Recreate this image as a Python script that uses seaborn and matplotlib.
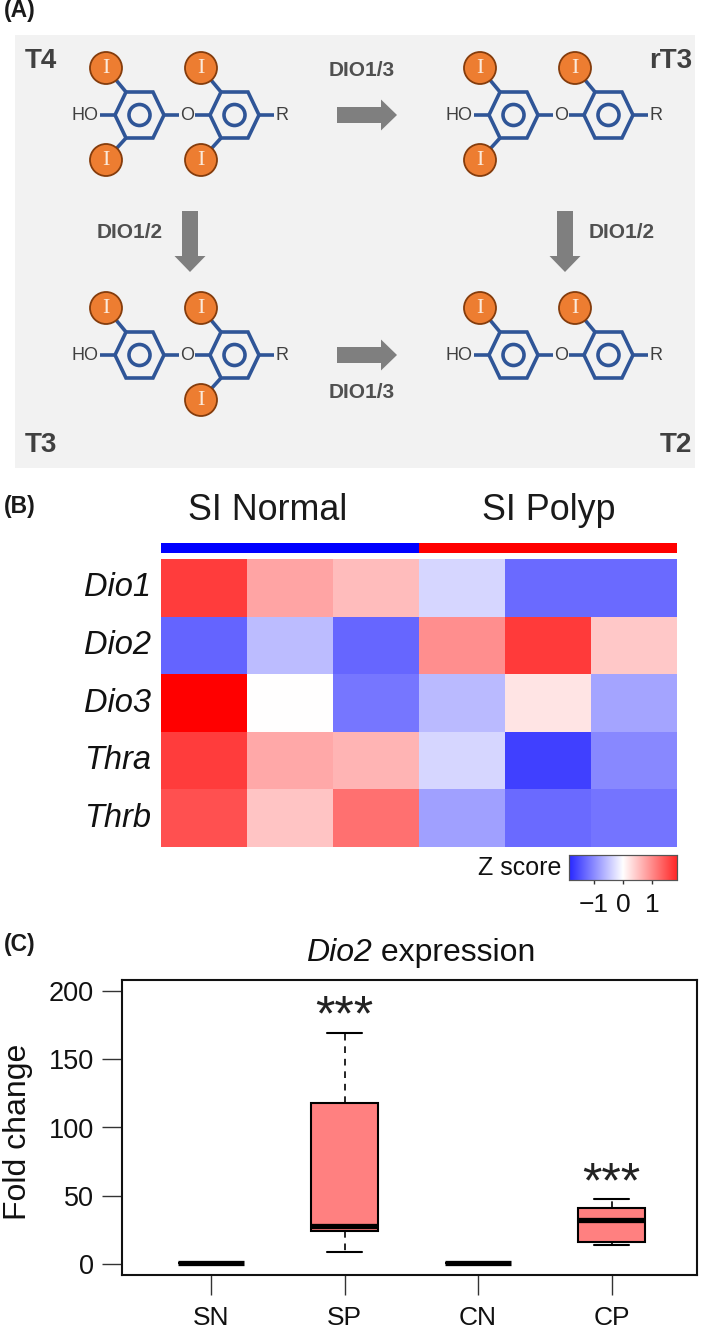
import numpy as np
import pandas as pd
import matplotlib
matplotlib.use("Agg")
import matplotlib.pyplot as plt
from matplotlib.patches import Rectangle, Circle, Polygon
import seaborn as sns

sns.set_theme(style="white")
plt.rcParams["font.family"] = ["Liberation Sans", "DejaVu Sans"]

W, H = 709, 1328

# ── Data ──────────────────────────────────────────────────────
genes = ["Dio1", "Dio2", "Dio3", "Thra", "Thrb"]
samples = ["N1", "N2", "N3", "P1", "P2", "P3"]
dio1 = [1.68, 0.78, 0.58, -0.36, -1.28, -1.28]
dio2 = [-1.34, -0.58, -1.32, 0.97, 1.69, 0.48]
dio3 = [2.20, 0.00, -1.17, -0.60, 0.24, -0.79]
thra = [1.68, 0.75, 0.65, -0.35, -1.65, -1.03]
thrb = [1.51, 0.51, 1.23, -0.81, -1.28, -1.19]
group_strip = [0, 0, 0, 1, 1, 1]
group_names = ["SI Normal", "SI Polyp"]
cbar_ticks = [-1, 0, 1]
cbar_ticklabels = ["\u22121", "0", "1"]

box_groups = ["SN", "SP", "CN", "CP"]
sn_vals = [1, 1, 1, 1, 1]
sp_vals = [9, 24, 28, 118, 169]
cn_vals = [1, 1, 1, 1, 1]
cp_vals = [14, 16, 32, 41, 48]
y_ticks = [0, 50, 100, 150, 200]
star_heights = {"SP": 184, "CP": 62}

BLUE = "#2F5597"
ORANGE = "#ED7D31"
TXT = "#404040"
ARROW = "#7F7F7F"
BG = "#F2F2F2"


def px_axes(x0, y0, x1, y1):
    return fig.add_axes([x0 / W, 1 - y1 / H, (x1 - x0) / W, (y1 - y0) / H])


fig = plt.figure(figsize=(W / 100, H / 100), dpi=100, facecolor="white")

# ── Panel A: pathway schematic, drawn in pixel coordinates ────
sk = fig.add_axes([0, 0, 1, 1])
sk.set_xlim(0, W)
sk.set_ylim(H, 0)
sk.axis("off")
sk.add_patch(Rectangle((15, 35), 680, 433, color=BG, lw=0))


def ring(cx, cy):
    xs = [cx - 24.5, cx - 13.5, cx + 13.5, cx + 24.5, cx + 13.5, cx - 13.5]
    ys = [cy, cy - 23, cy - 23, cy, cy + 23, cy + 23]
    sk.add_patch(Polygon(np.column_stack([xs, ys]), closed=True, fill=False,
                         ec=BLUE, lw=2.6, joinstyle="miter"))
    sk.add_patch(Circle((cx, cy), 10.5, fill=False, ec=BLUE, lw=2.6))


def iodine(x, y, sx, sy):
    # sx, sy: ring vertex that the bond starts from
    sk.plot([sx, x], [sy, y], color=BLUE, lw=2.6, solid_capstyle="butt")
    sk.add_patch(Circle((x, y), 16, fc=ORANGE, ec="#843C0C", lw=1.3, zorder=3))
    sk.text(x, y + 0.5, "I", color="#FBE9DA", fontsize=16, family="Liberation Serif",
            ha="center", va="center", zorder=4)


def molecule(dx, dy, sites):
    cy = 115 + dy
    lc, rc = 139.5 + dx, 234.5 + dx
    ring(lc, cy)
    ring(rc, cy)
    for x0, x1 in [(100, 115), (164, 179), (195, 210), (259, 274)]:
        sk.plot([x0 + dx, x1 + dx], [cy, cy], color=BLUE, lw=2.6, solid_capstyle="butt")
    sk.text(85 + dx, cy + 0.5, "HO", color=TXT, fontsize=13, ha="center", va="center")
    sk.text(187 + dx, cy + 0.5, "O", color=TXT, fontsize=13, ha="center", va="center")
    sk.text(282 + dx, cy + 0.5, "R", color=TXT, fontsize=13, ha="center", va="center")
    if "a" in sites:
        iodine(106 + dx, cy - 47, lc - 13.5, cy - 23)
    if "b" in sites:
        iodine(106 + dx, cy + 45, lc - 13.5, cy + 23)
    if "c" in sites:
        iodine(201 + dx, cy - 47, rc - 13.5, cy - 23)
    if "d" in sites:
        iodine(201 + dx, cy + 45, rc - 13.5, cy + 23)


molecule(0, 0, "abcd")
molecule(374, 0, "abc")
molecule(0, 240, "acd")
molecule(374, 240, "ac")


def arrow_right(x0, x1, y):
    pts = [(x0, y - 8), (x1 - 16, y - 8), (x1 - 16, y - 15.5), (x1, y),
           (x1 - 16, y + 15.5), (x1 - 16, y + 8), (x0, y + 8)]
    sk.add_patch(Polygon(pts, closed=True, fc=ARROW, ec="none"))


def arrow_down(x, y0, y1):
    pts = [(x - 8, y0), (x - 8, y1 - 16), (x - 15.5, y1 - 16), (x, y1),
           (x + 15.5, y1 - 16), (x + 8, y1 - 16), (x + 8, y0)]
    sk.add_patch(Polygon(pts, closed=True, fc=ARROW, ec="none"))


arrow_right(337, 397, 115)
arrow_right(337, 397, 355)
arrow_down(190, 211, 272)
arrow_down(565, 211, 272)

for x, y, s in [(362, 70, "DIO1/3"), (362, 393, "DIO1/3"), (130, 233, "DIO1/2"), (622, 233, "DIO1/2")]:
    sk.text(x, y, s, color="#505050", fontsize=15, fontweight="bold", ha="center", va="center")
for x, y, s, ha in [(25, 61, "T4", "left"), (692, 61, "rT3", "right"),
                    (25, 445, "T3", "left"), (692, 445, "T2", "right")]:
    sk.text(x, y, s, color=TXT, fontsize=20, fontweight="bold", ha=ha, va="center")

for y, s in [(11, "(A)"), (507, "(B)"), (945, "(C)")]:
    sk.text(4, y, s, color="#1a1a1a", fontsize=16.5, fontweight="bold", ha="left", va="center")

# ── Panel B: heatmap ──────────────────────────────────────────
zscores = pd.DataFrame([dio1, dio2, dio3, thra, thrb], index=genes, columns=samples)

ax_strip = px_axes(161, 543, 677, 553)
sns.heatmap(np.array([group_strip]), ax=ax_strip, cmap="bwr", vmin=0, vmax=1,
            cbar=False, xticklabels=False, yticklabels=False)

sk.text(268, 510, group_names[0], color="#1a1a1a", fontsize=25.8, ha="center", va="center")
sk.text(549, 510, group_names[1], color="#1a1a1a", fontsize=25.8, ha="center", va="center")

ax_heat = px_axes(161, 559, 677, 847)
ax_cbar = px_axes(569, 855, 677, 880)
sns.heatmap(zscores, ax=ax_heat, cmap="bwr", vmin=-2.2, vmax=2.2, cbar_ax=ax_cbar,
            cbar_kws={"orientation": "horizontal", "ticks": cbar_ticks},
            xticklabels=False, yticklabels=True)
ax_heat.tick_params(axis="y", length=0, pad=7)
for lab in ax_heat.get_yticklabels():
    lab.set_rotation(0)
    lab.set_fontstyle("italic")
    lab.set_fontsize(23.5)
    lab.set_color("#111111")

ax_cbar.set_xlim(-1.86, 1.86)
ax_cbar.set_xticks(cbar_ticks)
ax_cbar.set_xticklabels(cbar_ticklabels, fontsize=19, color="#111111")
ax_cbar.tick_params(axis="x", bottom=True, length=3, width=1, pad=6, color="#333333")
for sp in ax_cbar.spines.values():
    sp.set_visible(True)
    sp.set_linewidth(0.8)
    sp.set_edgecolor("#555555")
ax_heat.collections[0].colorbar.outline.set_edgecolor("#555555")
sk.text(561, 868, "Z score", color="#111111", fontsize=18, ha="right", va="center")

# ── Panel C: boxplot ──────────────────────────────────────────
box_df = pd.DataFrame({
    "group": np.repeat(box_groups, 5),
    "fold": sn_vals + sp_vals + cn_vals + cp_vals,
})
ax_box = px_axes(122, 980, 697, 1275)
sns.boxplot(data=box_df, x="group", y="fold", hue="group", order=box_groups, ax=ax_box,
            palette=["#FF8080"] * 4, saturation=1, legend=False, width=0.5, whis=10,
            linecolor="black", linewidth=1.5, capwidths=0.26, showfliers=False,
            whiskerprops={"linestyle": (0, (4, 3.5)), "linewidth": 1.2},
            medianprops={"linewidth": 3.8})
ax_box.set_xlim(-0.667, 3.64)
ax_box.set_ylim(-8, 208)
ax_box.set_yticks(y_ticks)
ax_box.set_xlabel("")
ax_box.set_ylabel("Fold change", fontsize=23, color="#111111")
ax_box.yaxis.set_label_coords(-0.155, 0.485)
ax_box.tick_params(axis="y", left=True, length=14.4, width=1, color="#333333", labelsize=19.5,
                   labelcolor="#111111", pad=6)
ax_box.tick_params(axis="x", bottom=True, length=14.4, width=1, color="#333333", labelsize=19,
                   labelcolor="#111111", pad=8)
for sp in ax_box.spines.values():
    sp.set_visible(True)
    sp.set_linewidth(1.5)
    sp.set_edgecolor("#111111")
for name, val in star_heights.items():
    ax_box.text(box_groups.index(name), val, "***", fontsize=36, color="#222222",
                ha="center", va="center_baseline")
# the gene name is italic, the rest upright, so two pieces meeting at x=372
sk.text(372, 953, "Dio2", color="#111111", fontsize=23, fontstyle="italic", ha="right", va="center")
sk.text(372, 953, " expression", color="#111111", fontsize=23, ha="left", va="center")

fig.savefig("out.png", dpi=100)
